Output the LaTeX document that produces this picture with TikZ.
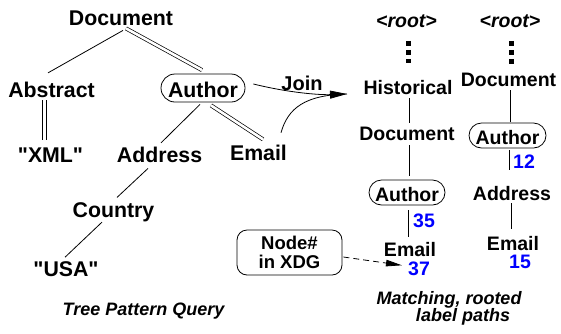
\documentclass[tikz,border=0pt]{standalone}
\usepackage{fontspec}
\setmainfont{Liberation Sans}
\usetikzlibrary{calc,arrows.meta}
\definecolor{numblue}{RGB}{0,0,255}
% straight double quote, set as a glyph so the TeX ligature mapping leaves it alone
\newcommand{\dq}{\XeTeXglyph\XeTeXcharglyph"22\relax}
\begin{document}
\begin{tikzpicture}[x=1pt,y=-1pt,
  lbl/.style={inner sep=0pt, anchor=base, font=\fontsize{21.3}{25}\selectfont\bfseries},
  rlbl/.style={inner sep=0pt, anchor=base, font=\fontsize{19.5}{23}\selectfont\bfseries},
  rootlbl/.style={rlbl, font=\fontsize{19.5}{23}\selectfont\bfseries\itshape},
  num/.style={rlbl, text=numblue},
  capt/.style={inner sep=0pt, anchor=base, font=\fontsize{18}{21}\selectfont\bfseries\itshape},
  pill/.style={draw, line width=0.8pt, inner sep=0pt, text depth=0pt},
  edge/.style={line width=0.8pt},
  dbl/.style={line width=0.7pt, double, double distance=2.6pt},
  dots/.style={line width=5pt, dash pattern=on 5pt off 4pt},
  bigtip/.style={-{Triangle[length=17pt,width=8pt]}}
]
\useasboundingbox (0,0) rectangle (561,333);

% ---- tree pattern query ----
\node[lbl] (doc) at (121,25) {Document};
\node[lbl] (abs) at (51.5,97) {Abstract};
\node[pill, font=\fontsize{21.3}{25}\selectfont\bfseries, minimum width=84pt,
      minimum height=28pt, rounded corners=14pt, text height=18pt] (auth) at (203,88) {Author};
\node[lbl] (xml) at (50.5,162) {\dq XML\dq};
\node[lbl] (addr) at (159.5,162) {Address};
\node[lbl] (email) at (258.5,160) {Email};
\node[lbl] (ctry) at (113.5,217) {Country};
\node[lbl] (usa) at (66,276) {\dq USA\dq};
\node[capt] (tpq) at (143.5,315) {Tree Pattern Query};

\draw[edge] ($(doc.south)+(2,5)$) -- ($(abs.north)+(-3.5,-8.5)$);
\draw[dbl] ($(doc.south)+(5,3)$) -- ($(auth.north)+(-1,-3.5)$);
\draw[dbl, double distance=3.6pt] ($(abs.south)+(-7,3)$) -- ($(xml.north)+(-6,-7)$);
\draw[edge] ($(auth.south)+(-3,2)$) -- ($(addr.north)+(1.5,-3.5)$);
\draw[dbl] ($(auth.south)+(8,3)$) -- ($(email.north)+(4.5,-5)$);
\draw[edge] ($(addr.south)+(-11.5,6)$) -- ($(ctry.north)+(3.5,-4.5)$);
\draw[edge] ($(ctry.south)+(-11.5,0.5)$) -- ($(usa.north)+(-1,-3.7)$);

% ---- join ----
\node[inner sep=0pt, anchor=base, font=\fontsize{20}{24}\selectfont\bfseries] (join) at (302,90) {Join};
\coordinate (tip) at (347,94);
\draw[edge, bigtip] ($(auth.east)+(8,-4)$) .. controls (290,93) and (320,95) .. (tip);
\draw[edge] ($(email.north)+(22.5,-11.7)$) .. controls (288,108) and (305,95) .. (tip);

% ---- first label path ----
\node[rootlbl] (root1) at (406.5,27) {<root>};
\node[rlbl] (hist) at (408,94) {Historical};
\node[rlbl] (doc2) at (407,140) {Document};
\node[pill, font=\fontsize{19.5}{23}\selectfont\bfseries, minimum width=76pt,
      minimum height=25pt, rounded corners=12.5pt, text height=17pt] (auth2) at (407,192.5) {Author};
\node[rlbl] (email2) at (410,256) {Email};
\node[num] (n35) at (424,227) {35};
\node[num] (n37) at (419,275) {37};

\draw[dots] ($(root1.south)+(1.5,13.5)$) -- ($(hist.north)+(0,-16.3)$);
\draw[edge] ($(hist.south)+(1,4)$) -- ($(doc2.north)+(2,-3)$);
\draw[edge] ($(doc2.south)+(2,5)$) -- ($(auth2.north)+(2,-4)$);
\draw[edge] ($(auth2.south)+(1,5)$) -- ($(email2.north)+(-2,-4.8)$);

% ---- second label path ----
\node[rootlbl] (root2) at (510,27) {<root>};
\node[rlbl] (doc3) at (508.5,86) {Document};
\node[pill, font=\fontsize{19.5}{23}\selectfont\bfseries, minimum width=77pt,
      minimum height=25pt, rounded corners=12.5pt, text height=17pt] (auth3) at (507.5,135.5) {Author};
\node[rlbl] (addr3) at (512,200) {Address};
\node[rlbl] (email3) at (513,250) {Email};
\node[num] (n12) at (524,168) {12};
\node[num] (n15) at (520,268) {15};

\draw[dots] ($(root2.south)+(1,13.5)$) -- ($(doc3.north)+(2.5,-8.3)$);
\draw[edge] ($(doc3.south)+(1.5,4)$) -- ($(auth3.north)+(2.5,-1)$);
\draw[edge] ($(auth3.south)+(1.5,2)$) -- ($(addr3.north)+(-3,-15.8)$);
\draw[edge] ($(addr3.south)+(-1,3)$) -- ($(email3.north)+(-2,-6.8)$);

% ---- node number callout ----
\node[draw, line width=0.8pt, rounded corners=10pt, minimum width=105pt, minimum height=45pt,
      inner sep=0pt, align=center, font=\fontsize{18.5}{19}\selectfont\bfseries] (xdg)
      at (289.5,252.5) {Node\#\\in XDG};
\draw[edge, dash pattern=on 6pt off 4pt, -{Triangle[length=16pt,width=6.5pt]}]
  ($(xdg.east)+(1,4.5)$) -- ($(n37.west)+(-6,-3)$);

\node[capt] (cap1) at (449,304) {Matching, rooted};
\node[capt] (cap2) at (463,321) {label paths};
\end{tikzpicture}
\end{document}
